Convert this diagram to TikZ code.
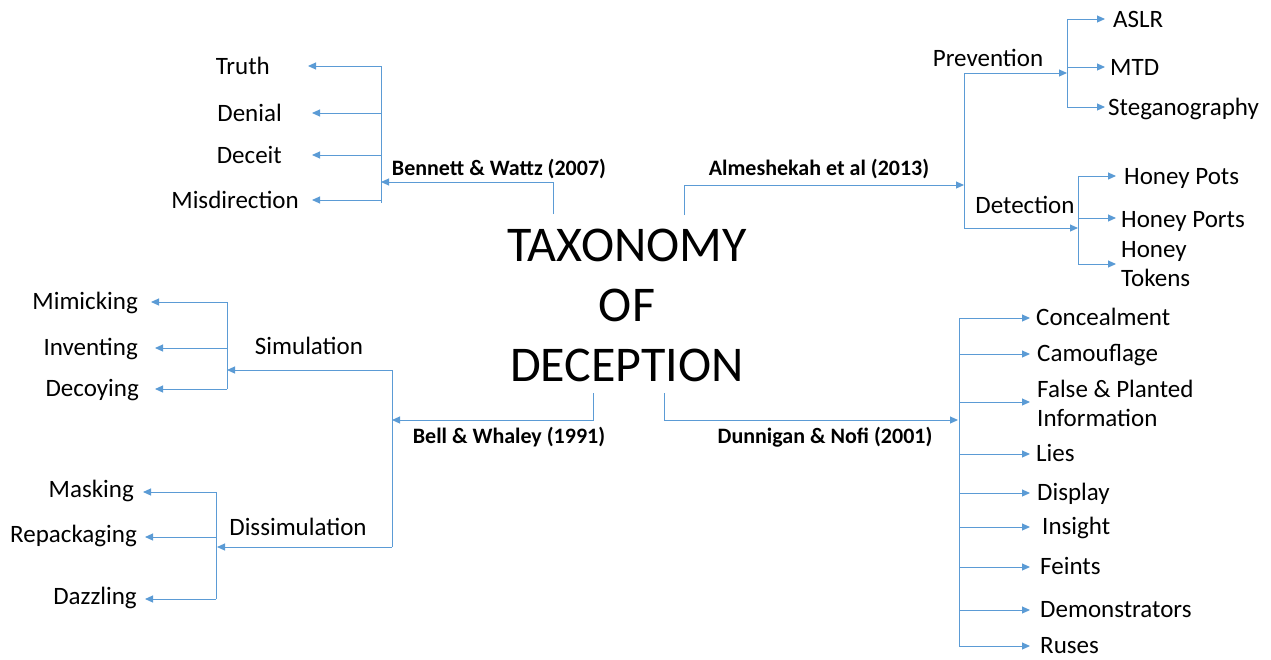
\documentclass[tikz,border=0pt]{standalone}
\usepackage{fontspec}
\setmainfont{Carlito}
\usetikzlibrary{arrows.meta}
\definecolor{link}{HTML}{5B9BD5}
\tikzset{
  wire/.style={draw=link, line width=1pt},
  arr/.style={wire, -{Triangle[length=8pt,width=7pt]}},
  leaf/.style={font=\fontsize{25}{29}\selectfont, inner sep=0pt},
  src/.style={font=\fontsize{22}{26}\selectfont\bfseries, inner sep=0pt, anchor=base},
  title/.style={font=\fontsize{50}{60}\selectfont, align=center, inner sep=0pt},
}
\begin{document}
\begin{tikzpicture}[x=1pt, y=-1pt]
\useasboundingbox (0,0) rectangle (1271,659);

% centre title
\node[title] (root) at (627,305) {TAXONOMY\\OF\\DECEPTION};

% ---------------- Bennett & Wattz (2007)
\coordinate (bw-start) at (553,214);
\coordinate (bw-join) at (381,182);
\coordinate (bw-top) at (381,66);
\coordinate (bw-bot) at (381,203);
\node[src] (bw) at (499,175) {Bennett \& Wattz (2007)};
\draw[arr] (bw-start) |- (bw-join);
\draw[wire] (bw-top) -- (bw-bot);
\foreach \n/\t/\tx/\ty/\tip in {truth/Truth/270/66/308, denial/Denial/282/113/312,
    deceit/Deceit/282/155/312, misdir/Misdirection/299/200/312}{
  \coordinate (\n-tip) at (\tip,\ty);
  \node[leaf, anchor=base east] (\n) at (\tx,\ty+8) {\t};
  \draw[arr] (bw-top |- \n-tip) -- (\n-tip);
}

% ---------------- Almeshekah et al (2013)
\coordinate (al-start) at (684,215);
\coordinate (al-join) at (964,185);
\coordinate (al-top) at (964,73);
\coordinate (al-bot) at (964,228);
\node[src] (al) at (819,175) {Almeshekah et al (2013)};
\draw[arr] (al-start) |- (al-join);
\draw[wire] (al-top) -- (al-bot);

\node[leaf, anchor=base] (prev) at (988,66) {Prevention};
\coordinate (prev-tip) at (1067,73);
\draw[arr] (al-top) -- (prev-tip);
\node[leaf, anchor=base] (det) at (1025,213) {Detection};
\coordinate (det-tip) at (1078,228);
\draw[arr] (al-bot) -- (det-tip);

\coordinate (prev-top) at (1067,19);
\coordinate (prev-bot) at (1067,107);
\draw[wire] (prev-top) -- (prev-bot);
\foreach \n/\t/\tx/\ty in {aslr/ASLR/1113/19, mtd/MTD/1110/67, steg/Steganography/1108/107}{
  \coordinate (\n-tip) at (1105,\ty);
  \node[leaf, anchor=base west] (\n) at (\tx,\ty+8) {\t};
  \draw[arr] (prev-top |- \n-tip) -- (\n-tip);
}

\coordinate (det-top) at (1078,176);
\coordinate (det-bot) at (1078,264);
\draw[wire] (det-top) -- (det-bot);
\coordinate (pots-tip) at (1116,176);
\coordinate (ports-tip) at (1116,218);
\coordinate (tokens-tip) at (1116,264);
\node[leaf, anchor=base west] (pots) at (1124,184) {Honey Pots};
\node[leaf, anchor=base west] (ports) at (1121,227) {Honey Ports};
\node[leaf, anchor=west, align=left] (tokens) at (1121,264) {Honey\\Tokens};
\draw[arr] (det-top) -- (pots-tip);
\draw[arr] (det-top |- ports-tip) -- (ports-tip);
\draw[arr] (det-bot) -- (tokens-tip);

% ---------------- Bell & Whaley (1991)
\coordinate (bl-start) at (593,393);
\coordinate (bl-join) at (392,420);
\coordinate (bl-top) at (392,370);
\coordinate (bl-bot) at (392,547);
\node[src] (bl) at (509,443) {Bell \& Whaley (1991)};
\draw[arr] (bl-start) |- (bl-join);
\draw[wire] (bl-top) -- (bl-bot);

\node[leaf, anchor=base] (sim) at (309,354) {Simulation};
\coordinate (sim-tip) at (227,370);
\draw[arr] (bl-top) -- (sim-tip);
\node[leaf, anchor=base] (dis) at (298,535) {Dissimulation};
\coordinate (dis-tip) at (217,547);
\draw[arr] (bl-bot) -- (dis-tip);

\coordinate (sim-top) at (227,302);
\coordinate (sim-bot) at (227,389);
\draw[wire] (sim-top) -- (sim-bot);
\foreach \n/\t/\tx/\ty/\tip in {mim/Mimicking/138/302/151, inv/Inventing/138/348/155,
    dec/Decoying/139/389/155}{
  \coordinate (\n-tip) at (\tip,\ty);
  \node[leaf, anchor=base east] (\n) at (\tx,\ty+7) {\t};
  \draw[arr] (sim-top |- \n-tip) -- (\n-tip);
}

\coordinate (dis-top) at (216,492);
\coordinate (dis-bot) at (216,599);
\draw[wire] (dis-top) -- (dis-bot);
\foreach \n/\t/\tx/\ty/\tip in {mask/Masking/134/492/143, repack/Repackaging/137/537/145,
    dazz/Dazzling/137/599/145}{
  \coordinate (\n-tip) at (\tip,\ty);
  \node[leaf, anchor=base east] (\n) at (\tx,\ty+5) {\t};
  \draw[arr] (dis-top |- \n-tip) -- (\n-tip);
}

% ---------------- Dunnigan & Nofi (2001)
\coordinate (dn-start) at (664,393);
\coordinate (dn-join) at (958,420);
\coordinate (dn-top) at (959,318);
\coordinate (dn-bot) at (959,646);
\node[src] (dn) at (825,443) {Dunnigan \& Nofi (2001)};
\draw[arr] (dn-start) |- (dn-join);
\draw[wire] (dn-top) -- (dn-bot);
\foreach \n/\t/\tx/\ty in {conc/Concealment/1036/318, camo/Camouflage/1037/354,
    lies/Lies/1036/454, disp/Display/1037/493, ins/Insight/1042/527,
    feint/Feints/1040/567, demo/Demonstrators/1040/610, ruse/Ruses/1040/646}{
  \coordinate (\n-tip) at (1030,\ty);
  \node[leaf, anchor=base west] (\n) at (\tx,\ty+7) {\t};
  \draw[arr] (dn-top |- \n-tip) -- (\n-tip);
}
\coordinate (false-tip) at (1030,402);
\node[leaf, anchor=west, align=left] (false) at (1037,403) {False \& Planted\\Information};
\draw[arr] (dn-top |- false-tip) -- (false-tip);
\end{tikzpicture}
\end{document}
